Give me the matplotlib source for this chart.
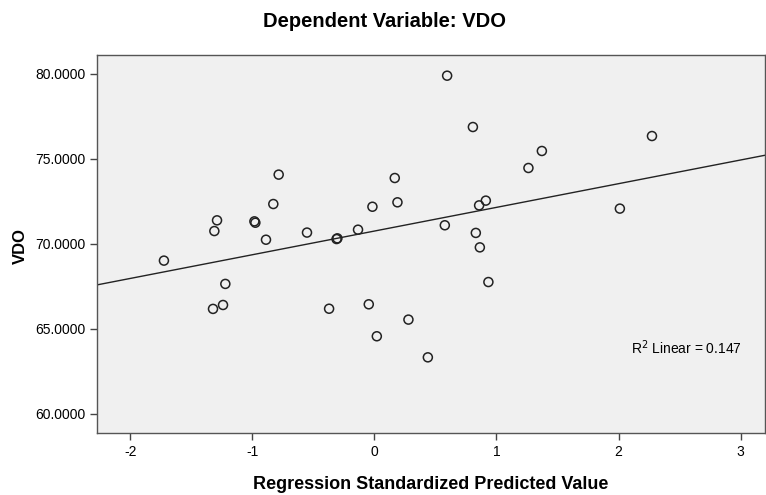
import numpy as np
import matplotlib
matplotlib.use('Agg')
import matplotlib.pyplot as plt

plt.rcParams['font.family'] = ['Liberation Sans', 'DejaVu Sans']

pred = [-0.784, 0.167, -0.828, 0.189, -0.016, -1.289, -1.311, -0.983, -0.975,
        -0.888, -0.552, -0.303, -0.310, -0.134,
        0.596, 0.807, 2.274, 1.372, 1.262, 0.913, 0.858, 2.011, 0.577, 0.831, 0.864,
        -1.724, -1.221, -1.240, -1.322, -0.371, -0.046, 0.279, 0.020, 0.438,
        0.934]
vdo = [74.08, 73.88, 72.35, 72.45, 72.19, 71.39, 70.76, 71.33, 71.25,
       70.25, 70.67, 70.33, 70.29, 70.84,
       79.90, 76.88, 76.35, 75.47, 74.47, 72.55, 72.27, 72.08, 71.10, 70.65, 69.80,
       69.02, 67.65, 66.41, 66.18, 66.19, 66.45, 65.55, 64.57, 63.33,
       67.76]
x_ticks = [-2, -1, 0, 1, 2, 3]
y_ticks = [60, 65, 70, 75, 80]
r2_label = r'R$^2$ Linear = 0.147'

fig = plt.figure(figsize=(7.66, 4.95), dpi=100)
ax = fig.add_axes([0.127, 0.1246, 0.8717, 0.7644])
ax.set_facecolor('#f0f0f0')

ax.scatter(pred, vdo, s=42, facecolors='none', edgecolors='#222222', linewidths=1.1, zorder=3)

xlim = (-2.27, 3.20)
slope, icpt = np.polyfit(pred, vdo, 1)
xs = np.array(xlim)
ax.plot(xs, slope * xs + icpt, color='#222222', linewidth=1.0, zorder=2)

ax.set_xlim(*xlim)
ax.set_ylim(58.86, 81.12)
ax.set_xticks(x_ticks)
ax.set_xticklabels([str(t) for t in x_ticks])
ax.set_yticks(y_ticks)
ax.set_yticklabels(['%.4f' % t for t in y_ticks])
ax.tick_params(direction='out', length=5, width=1, color='#444444', labelsize=10)

for s in ax.spines.values():
    s.set_color('#555555')
    s.set_linewidth(1.0)

ax.text(2.10, 63.88, r2_label, fontsize=10, ha='left', va='center')

fig.text(0.502, 0.9556, 'Dependent Variable: VDO', ha='center', va='center',
         fontsize=14.5, fontweight='bold')
fig.text(0.5627, 0.022, 'Regression Standardized Predicted Value', ha='center',
         va='center', fontsize=13, fontweight='bold')
fig.text(0.026, 0.503, 'VDO', ha='center', va='center', rotation=90,
         fontsize=12, fontweight='bold')

fig.savefig('out.png', dpi=100)
